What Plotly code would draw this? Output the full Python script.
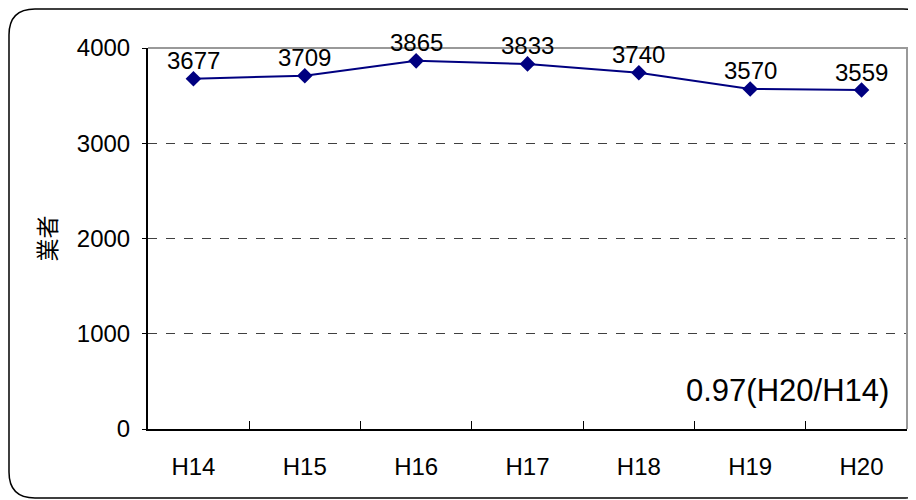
import plotly.graph_objects as go

years = ["H14", "H15", "H16", "H17", "H18", "H19", "H20"]
counts = [3677, 3709, 3865, 3833, 3740, 3570, 3559]
y_ticks = [0, 1000, 2000, 3000, 4000]
ratio_note = "0.97(H20/H14)"

# the page body has an 8px margin, so the figure is laid out 8px up/left
W, H = 916, 500
L, R, T, B = 140, 17, 40, 79
pw, ph = W - L - R, H - T - B


def px(x, y):
    # pixel position in the figure -> paper coords (for the outer frame/note)
    return (x - L) / pw, (H - B - y) / ph


def frame_path(x0, y0, x1, y1, r):
    pts = [
        ("M", [(x0 + r, y0)]),
        ("L", [(x1 - r, y0)]),
        ("Q", [(x1, y0), (x1, y0 + r)]),
        ("L", [(x1, y1 - r)]),
        ("Q", [(x1, y1), (x1 - r, y1)]),
        ("L", [(x0 + r, y1)]),
        ("Q", [(x0, y1), (x0, y1 - r)]),
        ("L", [(x0, y0 + r)]),
        ("Q", [(x0, y0), (x0 + r, y0)]),
    ]
    out = ""
    for cmd, ps in pts:
        out += cmd + " ".join("%.5f,%.5f" % px(a, b) for a, b in ps) + " "
    return out + "Z"


font = "Liberation Sans, Arial, Noto Sans CJK JP"

fig = go.Figure()
fig.add_trace(go.Scatter(
    x=years, y=counts,
    mode="lines+markers",
    line=dict(color="#000080", width=2),
    marker=dict(symbol="diamond", size=12, color="#000080"),
    cliponaxis=False,
    showlegend=False,
))

# value labels above each point
labels = [dict(x=yr, y=v, text=str(v), xref="x", yref="y", showarrow=False,
               yanchor="middle", yshift=18, font=dict(size=24, color="black"))
          for yr, v in zip(years, counts)]

fig.update_layout(
    width=W, height=H,
    margin=dict(l=L, r=R, t=T, b=B, autoexpand=False),
    paper_bgcolor="white", plot_bgcolor="white",
    font=dict(family=font, size=24, color="black"),
    xaxis=dict(
        showline=True, linecolor="black", linewidth=2,
        tickson="boundaries", ticks="inside", ticklen=8, tickcolor="black",
        showgrid=False, ticklabelstandoff=15, automargin=False,
    ),
    yaxis=dict(
        range=[0, 4000], tickvals=y_ticks,
        showline=True, linecolor="black", linewidth=2,
        ticks="outside", ticklen=4, tickcolor="black", ticklabelstandoff=7,
        showgrid=True, gridcolor="#404040", gridwidth=1, griddash="dash",
        zeroline=False, automargin=False,
        title=dict(text="業者", font=dict(size=23), standoff=14),
    ),
    shapes=[
        dict(type="path", xref="x domain", yref="y domain",
             path="M0,1 L1,1 L1,0", line=dict(color="#999999", width=2),
             layer="above"),
        dict(type="path", xref="paper", yref="paper",
             path=frame_path(1, 1, 921, 490, 26),
             line=dict(color="black", width=1.5), layer="below"),
    ],
    annotations=labels + [
        dict(text=ratio_note, xref="paper", yref="paper",
             x=px(883, 0)[0], y=px(0, 382)[1], xanchor="right", yanchor="middle",
             showarrow=False, font=dict(size=31, color="black")),
    ],
)

fig.write_html("out.html")
